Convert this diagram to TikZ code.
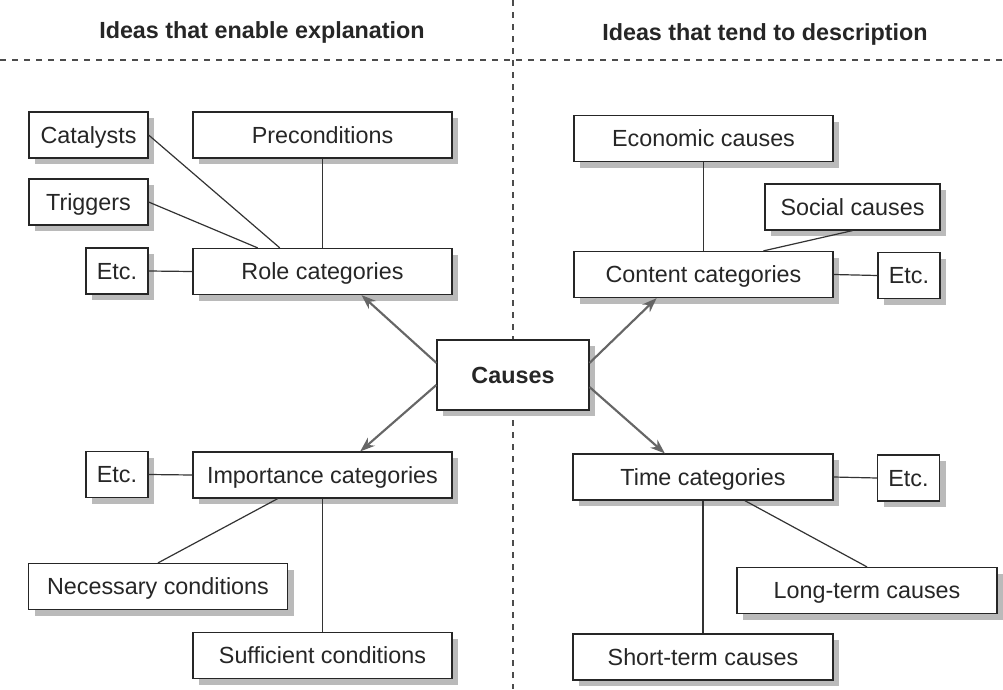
\documentclass[tikz,border=0pt]{standalone}
\usepackage{fontspec}
\setmainfont{Liberation Sans}
\usetikzlibrary{shadows,arrows.meta,calc}
\begin{document}
\begin{tikzpicture}[x=0.75pt,y=-0.75pt,
 bx/.style={draw=black!85, line width=0.9pt, fill=white, minimum height=34.5pt, inner sep=0pt,
   text height=12.5pt, text depth=0pt,
   font=\fontsize{17.5}{20}\selectfont, text=black!85,
   drop shadow={shadow xshift=4.5pt, shadow yshift=-4.5pt, fill=black!27, opacity=1}},
 ln/.style={draw=black!80, line width=0.9pt},
 arr/.style={draw=black!60, line width=1.6pt, -{Stealth[length=11pt,width=8pt]}},
 sep/.style={draw=black!70, line width=0.8pt, dash pattern=on 4.5pt off 4.5pt},
 hd/.style={font=\bfseries\fontsize{17.5}{20}\selectfont, text=black!85}]
\useasboundingbox (0,0) rectangle (1003,689);
\fill[white] (0,0) rectangle (1003,689);
% separators
\coordinate (hl) at (0,60);
\coordinate (hr) at (1003,60);
\coordinate (vt) at (513,0);
\coordinate (vb) at (513,689);
\draw[sep] (hl) -- (hr);
\draw[sep] (vt) -- (vb);
% headers
\node[hd] (h1) at (262,32) {Ideas that enable explanation};
\node[hd] (h2) at (765,34) {Ideas that tend to description};
% boxes
\node[bx, minimum width=89.25pt] (cat) at (88.5,135) {Catalysts};
\node[bx, minimum width=89.25pt] (trig) at (88.5,202) {Triggers};
\node[bx, minimum width=46.5pt] (etcA) at (117,271) {Etc.};
\node[bx, minimum width=194.25pt] (pre) at (322.5,135) {Preconditions};
\node[bx, minimum width=194.25pt] (role) at (322.5,271.5) {Role categories};
\node[bx, minimum width=114pt, minimum height=52.5pt, font=\bfseries\fontsize{17.5}{20}\selectfont] (causes) at (513,375) {Causes};
\node[bx, minimum width=194.25pt] (econ) at (703.5,138.5) {Economic causes};
\node[bx, minimum width=131.25pt] (soc) at (852.5,207) {Social causes};
\node[bx, minimum width=194.25pt] (cont) at (703.5,274.5) {Content categories};
\node[bx, minimum width=46.5pt] (etcB) at (909,275.5) {Etc.};
\node[bx, minimum width=46.5pt] (etcC) at (117,474.5) {Etc.};
\node[bx, minimum width=194.25pt] (imp) at (322.5,475) {Importance categories};
\node[bx, minimum width=194.25pt] (nec) at (158,586.5) {Necessary conditions};
\node[bx, minimum width=194.25pt] (suf) at (322.5,655.5) {Sufficient conditions};
\node[bx, minimum width=195pt] (time) at (703,477) {Time categories};
\node[bx, minimum width=46.5pt] (etcD) at (908.5,478) {Etc.};
\node[bx, minimum width=195pt] (long) at (867,590.5) {Long-term causes};
\node[bx, minimum width=195pt] (short) at (703,657) {Short-term causes};
% connectors
\draw[ln] (cat.east) -- ($(role.north west)!0.336!(role.north east)$);
\draw[ln] (trig.east) -- ($(role.north west)!0.251!(role.north east)$);
\draw[ln] (pre.south) -- (role.north);
\draw[ln] (etcA.east) -- (role.west);
\draw[ln] (econ.south) -- (cont.north);
\draw[ln] (soc.south) -- ($(cont.north west)!0.73!(cont.north east)$);
\draw[ln] (cont.east) -- (etcB.west);
\draw[ln] (etcC.east) -- (imp.west);
\draw[ln] ($(imp.south west)!0.328!(imp.south east)$) -- (nec.north);
\draw[ln] (imp.south) -- (suf.north);
\draw[ln] (time.east) -- (etcD.west);
\draw[ln] ($(time.south west)!0.66!(time.south east)$) -- (long.north);
\draw[ln] (time.south) -- (short.north);
% arrows
\draw[arr] ($(causes.north west)!0.33!(causes.south west)$) -- ($(role.south west)!0.65!(role.south east)$);
\draw[arr] ($(causes.north east)!0.33!(causes.south east)$) -- ($(cont.south west)!0.32!(cont.south east)$);
\draw[arr] ($(causes.north west)!0.64!(causes.south west)$) -- ($(imp.north west)!0.645!(imp.north east)$);
\draw[arr] ($(causes.north east)!0.67!(causes.south east)$) -- ($(time.north west)!0.354!(time.north east)$);
\end{tikzpicture}
\end{document}
